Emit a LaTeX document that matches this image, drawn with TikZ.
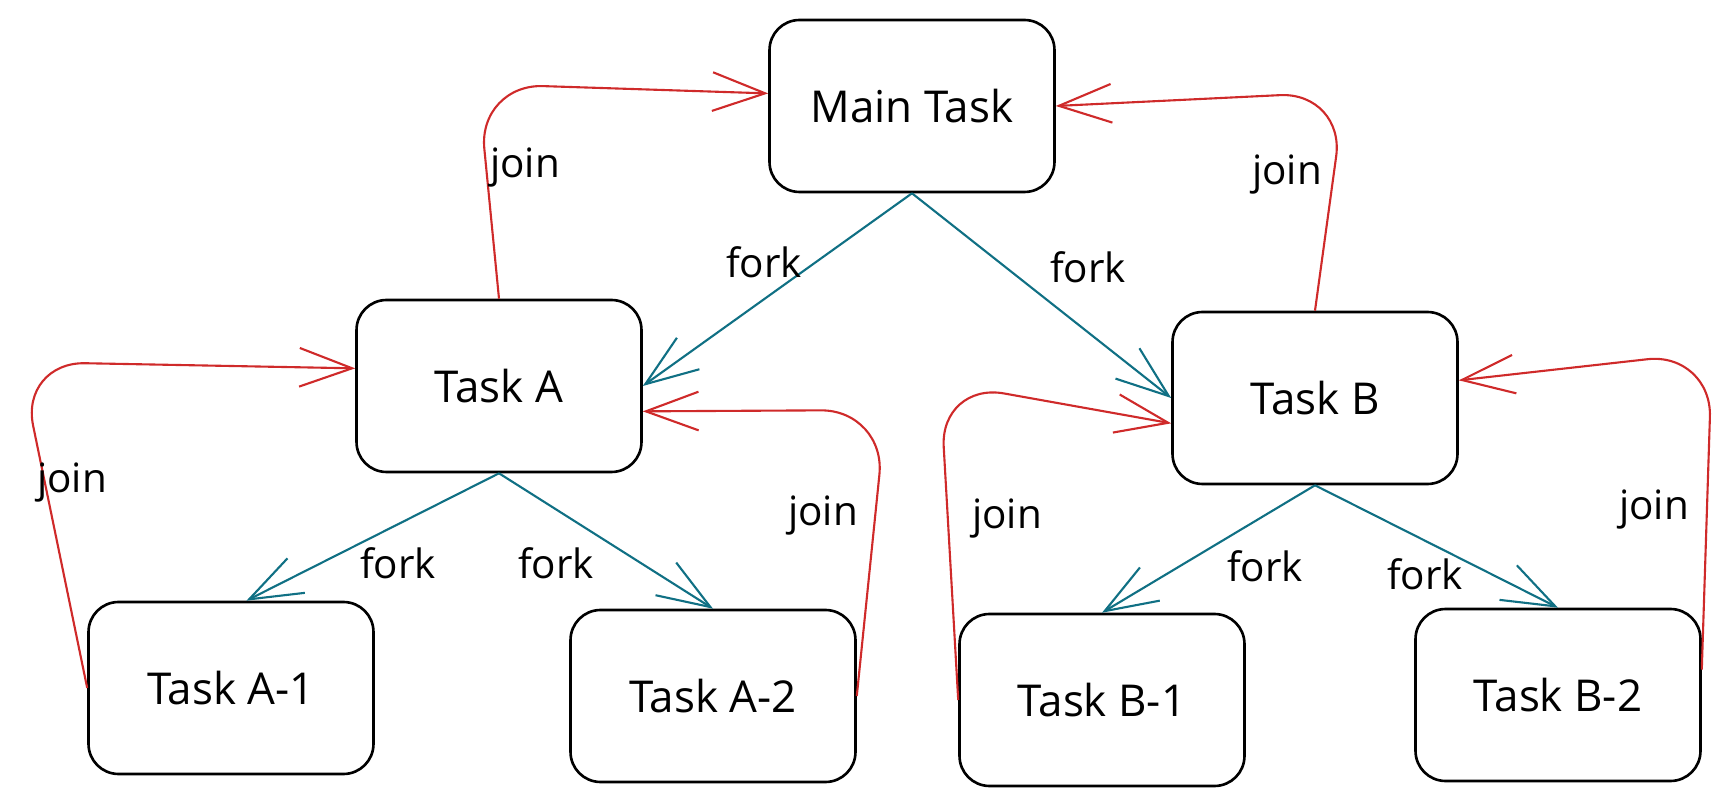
\documentclass[tikz,border=0pt]{standalone}
\usepackage{fontspec}
\setmainfont{Open Sans}
\definecolor{forkteal}{RGB}{16, 112, 132}
\definecolor{joinred}{RGB}{207, 42, 42}
\usetikzlibrary{shapes.geometric, arrows, arrows.meta, positioning, calc}

\begin{document}
\begin{tikzpicture}[x=0.02cm, y=-0.02cm,
  >={Straight Barb[length=30pt, width=22pt]},
  task/.style={draw=black, line width=1.5pt, fill=white, rounded corners=0.6cm, minimum width=5.7cm, minimum height=3.44cm, font=\fontsize{25}{30}\selectfont, align=center},
  forkline/.style={->, draw=forkteal, line width=1.2pt},
  joinline/.style={->, draw=joinred, line width=1.2pt, rounded corners=1.3cm},
  lbl/.style={font=\fontsize{23}{27}\selectfont}]
\useasboundingbox (0,0) rectangle (1732,807);

\node[task] (main) at (912,106) {Main Task};
\node[task] (taskA) at (499,386) {Task A};
\node[task] (taskB) at (1315,398) {Task B};
\node[task] (taskA1) at (231,688) {Task A-1};
\node[task] (taskA2) at (713,696) {Task A-2};
\node[task] (taskB1) at (1102,700) {Task B-1};
\node[task] (taskB2) at (1558,695) {Task B-2};

\draw[forkline] (main.south) -- (taskA.east);
\draw[forkline] (main.south) -- (taskB.west);
\draw[forkline] (taskA.south) -- (taskA1.80);
\draw[forkline] (taskA.south) -- (taskA2.north);
\draw[forkline] (taskB.south) -- (taskB1.north);
\draw[forkline] (taskB.south) -- (taskB2.north);

\draw[joinline] (taskA.north) -- (478,84) -- (main.175);
\draw[joinline] (taskB.north) -- (1345,92) -- (main.east);
\draw[joinline] (taskA1.west) -- (20,362) -- (taskA.173);
\draw[joinline] (taskA2.east) -- (886,410) -- (taskA.-10);
\draw[joinline] (taskB1.west) -- (940,382) -- (taskB.190);
\draw[joinline] (taskB2.10) -- (1712,352) -- (taskB.7);

\node[lbl] (fk1) at (764,262) {fork};
\node[lbl] (fk2) at (1088,267) {fork};
\node[lbl] (fk3) at (398,563) {fork};
\node[lbl] (fk4) at (556,563) {fork};
\node[lbl] (fk5) at (1265,566) {fork};
\node[lbl] (fk6) at (1425,574) {fork};

\node[lbl] (jn1) at (525,168) {join};
\node[lbl] (jn2) at (1287,175) {join};
\node[lbl] (jn3) at (72,483) {join};
\node[lbl] (jn4) at (823,516) {join};
\node[lbl] (jn5) at (1007,519) {join};
\node[lbl] (jn6) at (1654,510) {join};
\end{tikzpicture}
\end{document}
